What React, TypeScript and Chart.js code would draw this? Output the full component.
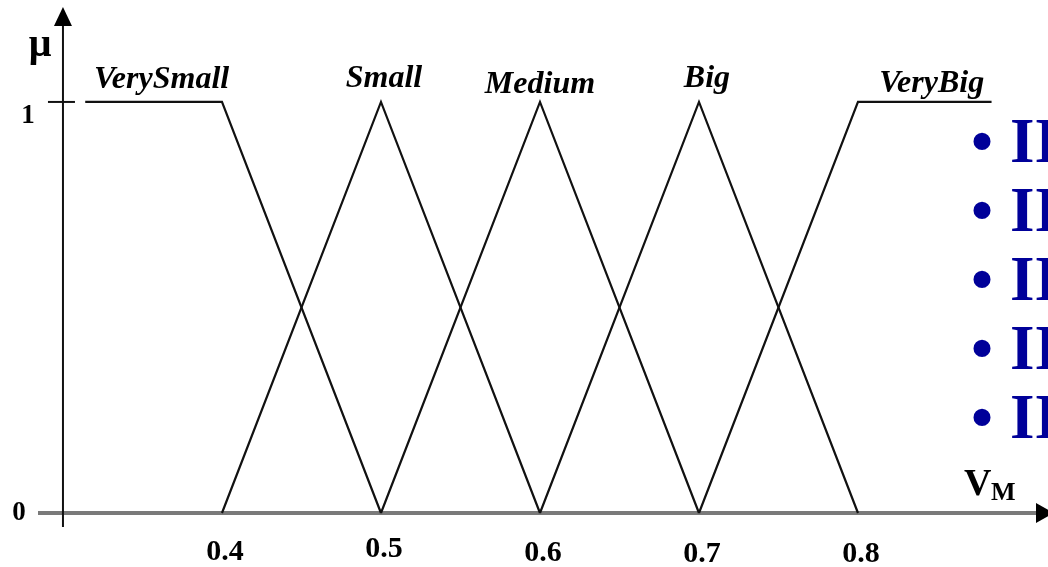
import React, { useEffect, useRef } from "react";
import { Chart, registerables } from "chart.js";

Chart.register(...registerables);

// ---- data ----
const termNames = ["VerySmall", "Small", "Medium", "Big", "VeryBig"];
const verySmallX = [0.314, 0.4, 0.5];
const verySmallY = [1, 1, 0];
const smallX = [0.4, 0.5, 0.6];
const smallY = [0, 1, 0];
const mediumX = [0.5, 0.6, 0.7];
const mediumY = [0, 1, 0];
const bigX = [0.6, 0.7, 0.8];
const bigY = [0, 1, 0];
const veryBigX = [0.7, 0.8, 0.884];
const veryBigY = [0, 1, 1];
const xTickValues = [0.4, 0.5, 0.6, 0.7, 0.8];
const xTickLabels = ["0.4", "0.5", "0.6", "0.7", "0.8"];
const yTickValues = [0, 1];
const yTickLabels = ["0", "1"];
const bulletItems = ["II", "II", "II", "II", "II"];

const seriesX = [verySmallX, smallX, mediumX, bigX, veryBigX];
const seriesY = [verySmallY, smallY, mediumY, bigY, veryBigY];

const SERIF = '"Liberation Serif", "DejaVu Serif", serif';

const decorPlugin = {
  id: "decor",
  beforeDatasetsDraw(chart: any) {
    const ctx = chart.ctx as CanvasRenderingContext2D;
    const xs = chart.scales.x;
    const ys = chart.scales.y;
    const ax = xs.getPixelForValue(0.3);
    const y0 = ys.getPixelForValue(0);
    const y1 = ys.getPixelForValue(1);
    ctx.save();
    // x axis (gray)
    ctx.strokeStyle = "#7a7a7a";
    ctx.lineWidth = 4;
    ctx.beginPath();
    ctx.moveTo(38, y0);
    ctx.lineTo(1040, y0);
    ctx.stroke();
    ctx.fillStyle = "#000";
    ctx.beginPath();
    ctx.moveTo(1036, y0 - 10);
    ctx.lineTo(1054, y0);
    ctx.lineTo(1036, y0 + 10);
    ctx.closePath();
    ctx.fill();
    // y axis
    ctx.strokeStyle = "#111";
    ctx.lineWidth = 2;
    ctx.beginPath();
    ctx.moveTo(ax, y0 + 14);
    ctx.lineTo(ax, 20);
    ctx.stroke();
    ctx.beginPath();
    ctx.moveTo(ax, 7);
    ctx.lineTo(ax + 9, 26);
    ctx.lineTo(ax - 9, 26);
    ctx.closePath();
    ctx.fill();
    // tick at 1
    ctx.beginPath();
    ctx.moveTo(ax - 15, y1);
    ctx.lineTo(ax + 12, y1);
    ctx.stroke();
    ctx.restore();
  },
  afterDraw(chart: any) {
    const ctx = chart.ctx as CanvasRenderingContext2D;
    const xs = chart.scales.x;
    const ys = chart.scales.y;
    const ax = xs.getPixelForValue(0.3);
    ctx.save();
    ctx.fillStyle = "#000";
    // x tick labels
    ctx.font = `bold 30px ${SERIF}`;
    ctx.textAlign = "center";
    ctx.textBaseline = "alphabetic";
    const tickBase = [560, 557, 561, 562, 562];
    xTickValues.forEach((v, i) => {
      ctx.fillText(xTickLabels[i], xs.getPixelForValue(v) + 3, tickBase[i]);
    });
    // y tick labels
    ctx.font = `bold 27px ${SERIF}`;
    const yOff = [[-44, 7], [-35, 21]];
    yTickValues.forEach((v, i) => {
      ctx.fillText(yTickLabels[i], ax + yOff[i][0], ys.getPixelForValue(v) + yOff[i][1]);
    });
    // mu
    ctx.font = `bold 40px ${SERIF}`;
    ctx.fillText("μ", 40, 56);
    // V_M
    ctx.textAlign = "left";
    ctx.font = `bold 38px ${SERIF}`;
    ctx.fillText("V", 964, 495);
    ctx.font = `bold 26px ${SERIF}`;
    ctx.fillText("M", 991, 500);
    // term labels
    ctx.textAlign = "center";
    ctx.font = `italic bold 32px ${SERIF}`;
    const labelOffsets = [[8, 88], [3, 87], [0, 93], [8, 87], [7, 92]];
    termNames.forEach((name, i) => {
      const sx = seriesX[i];
      const sy = seriesY[i];
      const topX = sx.filter((_, k) => sy[k] === 1);
      const cx = topX.reduce((a, b) => a + b, 0) / topX.length;
      ctx.fillText(name, xs.getPixelForValue(cx) + labelOffsets[i][0], labelOffsets[i][1]);
    });
    // bullets
    ctx.fillStyle = "#000099";
    ctx.font = `bold 63px ${SERIF}`;
    bulletItems.forEach((t, i) => {
      const base = 162 + i * 69;
      ctx.textAlign = "center";
      ctx.fillText("•", 982, base);
      ctx.textAlign = "left";
      ctx.fillText(t, 1010, base);
    });
    ctx.restore();
  },
};

export default function App() {
  const ref = useRef<HTMLCanvasElement | null>(null);
  useEffect(() => {
    if (!ref.current) return;
    const chart = new Chart(ref.current, {
      type: "line",
      data: {
        datasets: termNames.map((name, i) => ({
          label: name,
          data: seriesX[i].map((x, k) => ({ x, y: seriesY[i][k] })),
          borderColor: "#111",
          borderWidth: 2.2,
          pointRadius: 0,
          tension: 0,
          fill: false,
          clip: false as any,
        })),
      },
      options: {
        animation: false,
        responsive: true,
        maintainAspectRatio: false,
        layout: { padding: 0 },
        plugins: { legend: { display: false }, tooltip: { enabled: false } },
        events: [],
        scales: {
          x: { type: "linear", min: 0.2604, max: 0.9195, display: false },
          y: { type: "linear", min: -0.1314, max: 1.248, display: false },
        },
      },
      plugins: [decorPlugin],
    });
    return () => chart.destroy();
  }, []);
  return (
    <div style={{ position: "fixed", left: 0, top: 0, width: 1048, height: 567, background: "#fff" }}>
      <canvas ref={ref} />
    </div>
  );
}
